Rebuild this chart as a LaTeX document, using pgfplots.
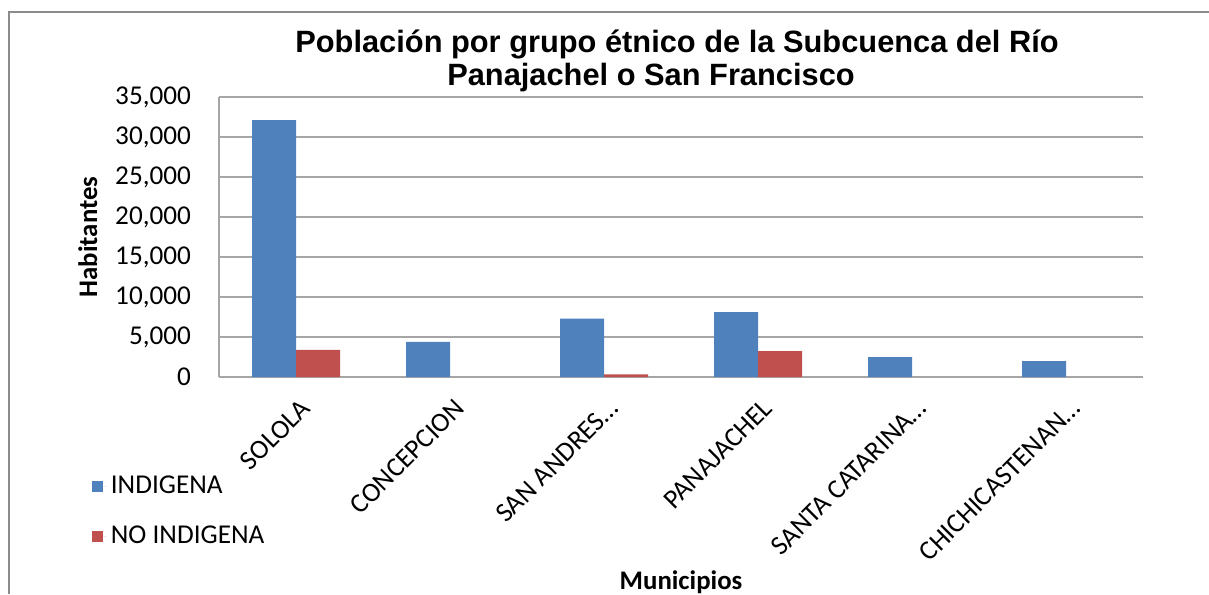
\documentclass[border=0pt]{standalone}
\usepackage{fontspec}
\setmainfont{Carlito}
\newfontfamily\titlefont{Liberation Sans}
\usepackage{pgfplots}
\pgfplotsset{compat=1.18}

\definecolor{indig}{HTML}{4F81BD}
\definecolor{noindig}{HTML}{C0504D}
\definecolor{gridg}{HTML}{A6A6A6}
\definecolor{frameg}{HTML}{8C8C8C}

\begin{document}
\begin{tikzpicture}
\useasboundingbox (0,0) rectangle (604.5pt,-297pt);
\draw[frameg, line width=1.3pt] (4.5pt,-297pt) -- (4.5pt,-6pt) -- (604.5pt,-6pt);
\node[font=\titlefont\bfseries\fontsize{15.4}{17}\selectfont, anchor=base] at (338.5pt,-26pt) {Población por grupo étnico de la Subcuenca del Río};
\node[font=\titlefont\bfseries\fontsize{15.4}{17}\selectfont, anchor=base] at (325.5pt,-42.5pt) {Panajachel o San Francisco};
\begin{axis}[
  at={(109.5pt,-188.5pt)}, anchor=south west,
  scale only axis, width=462pt, height=140pt,
  ybar=0pt, bar width=22pt,
  xmin=-0.5, xmax=5.5, ymin=0, ymax=35000,
  xtick={0,1,2,3,4,5},
  xticklabels={SOLOLA, CONCEPCION, SAN ANDRES\dots, PANAJACHEL, SANTA CATARINA\dots, CHICHICASTENAN\dots},
  ytick={0,5000,10000,15000,20000,25000,30000,35000},
  scaled y ticks=false,
  /pgf/number format/.cd, 1000 sep={,}, assume math mode=true, /pgfplots/.cd,
  tick style={draw=none},
  ymajorgrids, grid style={gridg, line width=1pt},
  axis x line*=bottom, axis y line*=left,
  axis line style={gridg, line width=1pt, -},
  tick label style={font=\fontsize{13.6}{15}\selectfont, text=black},
  yticklabel style={anchor=east, xshift=-10.5pt},
  xticklabel style={rotate=45, anchor=north east, xshift=0.5pt, yshift=-2pt},
  xlabel={\textbf{Municipios}},
  xlabel style={at={(axis description cs:0.5,-0.732)}, anchor=center, font=\fontsize{13.4}{15}\selectfont},
  ylabel={\textbf{Habitantes}},
  ylabel style={at={(axis description cs:-0.142,0.5)}, anchor=center, rotate=0, font=\fontsize{13.4}{15}\selectfont},
  legend style={at={(axis description cs:-0.138,-0.338)}, anchor=north west, draw=none, fill=none,
    font=\fontsize{13.6}{15}\selectfont, row sep=10.5pt, inner sep=0pt},
  legend cell align=left,
  legend image code/.code={\fill[#1] (0pt,-2.75pt) rectangle (5.5pt,2.75pt); \path (0pt,0pt) -- (7.5pt,0pt);},
]
\addplot[draw=none, fill=indig] coordinates {(0,32100) (1,4400) (2,7300) (3,8100) (4,2500) (5,2000)};
\addplot[draw=none, fill=noindig] coordinates {(0,3400) (2,330) (3,3250)};
\legend{INDIGENA, NO INDIGENA}
\end{axis}
\end{tikzpicture}
\end{document}
